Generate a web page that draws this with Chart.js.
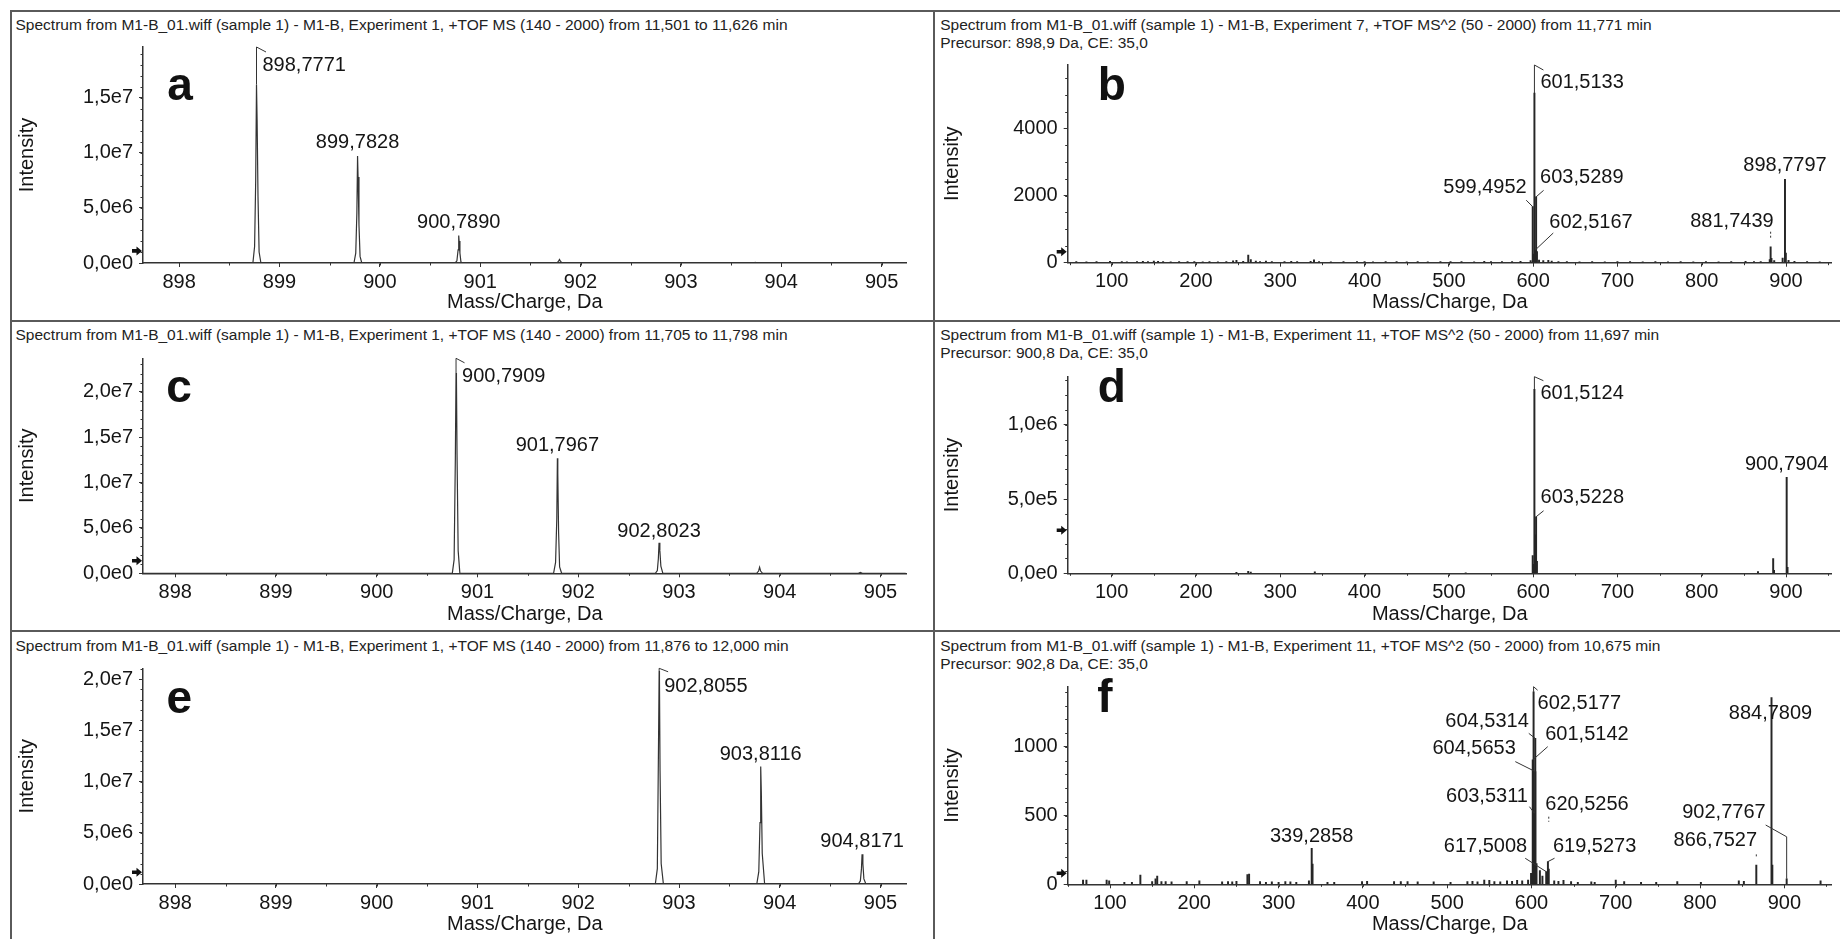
<!DOCTYPE html>
<html><head><meta charset="utf-8">
<script src="https://cdn.jsdelivr.net/npm/chart.js@4.4.1/dist/chart.umd.min.js"></script>
<style>
html,body{margin:0;padding:0;background:#fff;}
#fig{position:relative;width:1840px;height:939px;overflow:hidden;background:#fff;font-family:"Liberation Sans",Arial,sans-serif;}
.cv{position:absolute;}
.ttl{position:absolute;font-size:15.5px;line-height:18px;color:#222;white-space:nowrap;}
.ln{position:absolute;background:#5a5a5a;z-index:3;}
</style></head><body><div id="fig"></div>
<script>
const FONT = '"Liberation Sans", Arial, sans-serif';
const AX = '#333';
const TXT = '#151515';

// ---------------- data ----------------
// titles
const aTitle = ['Spectrum from M1-B_01.wiff (sample 1) - M1-B, Experiment 1, +TOF MS (140 - 2000) from 11,501 to 11,626 min'];
const bTitle = ['Spectrum from M1-B_01.wiff (sample 1) - M1-B, Experiment 7, +TOF MS^2 (50 - 2000) from 11,771 min', 'Precursor: 898,9 Da, CE: 35,0'];
const cTitle = ['Spectrum from M1-B_01.wiff (sample 1) - M1-B, Experiment 1, +TOF MS (140 - 2000) from 11,705 to 11,798 min'];
const dTitle = ['Spectrum from M1-B_01.wiff (sample 1) - M1-B, Experiment 11, +TOF MS^2 (50 - 2000) from 11,697 min', 'Precursor: 900,8 Da, CE: 35,0'];
const eTitle = ['Spectrum from M1-B_01.wiff (sample 1) - M1-B, Experiment 1, +TOF MS (140 - 2000) from 11,876 to 12,000 min'];
const fTitle = ['Spectrum from M1-B_01.wiff (sample 1) - M1-B, Experiment 11, +TOF MS^2 (50 - 2000) from 10,675 min', 'Precursor: 902,8 Da, CE: 35,0'];

// tick values
const msXTicks  = [898, 899, 900, 901, 902, 903, 904, 905];
const ms2XTicks = [100, 200, 300, 400, 500, 600, 700, 800, 900];
const aYTicks = [0, 5e6, 1e7, 1.5e7];
const bYTicks = [0, 2000, 4000];
const cYTicks = [0, 5e6, 1e7, 1.5e7, 2e7];
const dYTicks = [0, 5e5, 1e6];
const eYTicks = [0, 5e6, 1e7, 1.5e7, 2e7];
const fYTicks = [0, 500, 1000];

// panel a (profile MS)
const aMz  = [897.65, 898.735, 898.752, 898.763, 898.771, 898.777, 898.786, 898.797, 898.815, 899.742, 899.76, 899.771, 899.778, 899.783, 899.792, 899.803, 899.82, 900.75, 900.768, 900.78, 900.786, 900.79, 900.798, 900.808, 900.825, 901.76, 901.78, 901.79, 901.80, 901.82, 903.72, 903.74, 903.76, 904.73, 904.745, 904.76, 905.25];
const aInt = [0, 0, 1.5e6, 7.5e6, 1.62e7, 1.3e7, 6.0e6, 1.0e6, 0, 0, 9.0e5, 4.5e6, 9.7e6, 7.8e6, 3.5e6, 6e5, 0, 0, 2e5, 1.2e6, 2.5e6, 2.0e6, 9e5, 1e5, 0, 0, 1.5e5, 3.2e5, 1.5e5, 0, 0, 6e4, 0, 0, 4e4, 0, 0];
const aLabels = [898.7771, 899.7828, 900.7890];

// panel b (MS/MS sticks)
const bMz  = [58, 70, 82, 98, 112, 118, 130, 137, 143, 150, 155, 161, 170, 180, 190, 198, 208, 216, 226, 236, 244, 248, 256, 262, 265, 271, 276, 283, 290, 305, 313, 320, 336, 340, 346, 360, 375, 391, 400, 410, 425, 438, 450, 463, 475, 490, 502, 515, 530, 542, 550, 563, 575, 585, 597, 599.4952, 600.50, 601.5133, 602.5167, 603.5289, 604.53, 607, 612, 618, 622, 630, 640, 655, 670, 685, 700, 715, 730, 745, 760, 775, 790, 805, 820, 835, 852, 862, 870, 880.7, 881.7439, 882.75, 886, 896, 898.7797, 899.78, 903, 910, 925, 940];
const bInt = [30, 25, 35, 40, 30, 25, 35, 40, 30, 45, 40, 30, 25, 30, 35, 30, 25, 30, 25, 30, 55, 70, 40, 230, 95, 50, 35, 45, 30, 35, 40, 30, 40, 85, 30, 25, 30, 30, 35, 25, 30, 35, 25, 30, 25, 30, 35, 30, 25, 40, 30, 35, 30, 40, 60, 1667, 260, 5050, 378, 1960, 330, 80, 60, 70, 50, 35, 30, 25, 30, 25, 30, 35, 25, 30, 25, 30, 25, 30, 25, 30, 40, 35, 30, 90, 476, 130, 60, 140, 2480, 290, 70, 40, 30, 25];
const bLabels = [601.5133, 599.4952, 603.5289, 602.5167, 881.7439, 898.7797];

// panel c (profile MS)
const cMz  = [897.65, 900.75, 900.768, 900.78, 900.787, 900.791, 900.797, 900.808, 900.825, 901.755, 901.775, 901.787, 901.793, 901.797, 901.805, 901.815, 901.835, 902.765, 902.785, 902.795, 902.802, 902.81, 902.82, 902.84, 903.77, 903.79, 903.80, 903.81, 903.83, 904.78, 904.80, 904.82, 905.25];
const cInt = [0, 0, 1.5e6, 1.25e7, 2.206e7, 2.15e7, 1.3e7, 2.5e6, 0, 0, 1.2e6, 6e6, 1.267e7, 1.1e7, 4.5e6, 7e5, 0, 0, 3e5, 1.6e6, 3.37e6, 2.5e6, 8e5, 0, 0, 2.5e5, 6.6e5, 2.5e5, 0, 0, 1e5, 0, 0];
const cLabels = [900.7909, 901.7967, 902.8023];

// panel d (MS/MS sticks)
const dMz  = [248, 262, 265, 341, 520, 599.50, 600.50, 601.5124, 602.52, 603.5228, 604.53, 866.75, 884.78, 885.78, 900.7904, 901.79];
const dInt = [6000, 14000, 8000, 10000, 3000, 120000, 60000, 1240000, 260000, 381000, 80000, 12000, 100000, 20000, 647000, 40000];
const dLabels = [601.5124, 603.5228, 900.7904];

// panel e (profile MS)
const eMz  = [897.65, 902.765, 902.785, 902.797, 902.803, 902.806, 902.812, 902.823, 902.845, 903.772, 903.792, 903.804, 903.811, 903.817, 903.826, 903.85, 904.78, 904.80, 904.811, 904.817, 904.825, 904.835, 904.855, 905.25];
const eInt = [0, 0, 1.5e6, 1.4e7, 2.08e7, 2.0e7, 1.1e7, 2e6, 0, 0, 1.2e6, 6e6, 1.146e7, 9e6, 3e6, 0, 0, 3e5, 1.5e6, 2.9e6, 2e6, 5e5, 0, 0];
const eLabels = [902.8055, 903.8116, 904.8171];

// panel f (MS/MS sticks)
const fMz  = [68, 72, 96, 99, 117, 126, 136, 150, 154, 156, 161, 166, 173, 191, 206, 233, 240, 245, 250, 263, 265, 278, 285, 292, 300, 308, 314, 321, 336, 339.2858, 340.29, 358, 366, 399, 405, 437, 445, 453, 465, 484, 504, 524, 530, 536, 544, 550, 556, 563, 571, 577, 583, 589, 596, 599.5, 601.5142, 602.5177, 603.5311, 604.5314, 604.5653, 606, 610, 613, 617.5008, 619.5273, 620.5256, 627, 632, 638, 647, 655, 671, 675, 700, 710, 730, 748, 773, 801, 846, 852, 866.7527, 884.7809, 885.78, 902.7767, 943];
const fInt = [30, 30, 30, 25, 15, 15, 68, 20, 40, 60, 20, 20, 18, 20, 25, 18, 20, 18, 22, 70, 75, 20, 15, 18, 15, 20, 18, 15, 25, 262, 148, 15, 15, 20, 22, 20, 20, 20, 18, 18, 15, 20, 22, 18, 30, 28, 20, 18, 25, 22, 28, 25, 30, 80, 905, 1400, 517, 1062, 820, 150, 100, 60, 92, 165, 110, 25, 22, 28, 20, 15, 18, 15, 30, 20, 15, 15, 20, 15, 25, 22, 140, 1358, 140, 40, 25];
const fLabels = [602.5177, 604.5314, 601.5142, 604.5653, 603.5311, 620.5256, 617.5008, 619.5273, 884.7809, 902.7767, 866.7527, 339.2858];

// detection-threshold markers (intensity)
const thresholds = {a: 1.1e6, b: 327, c: 1.39e6, d: 2.9e5, e: 1.14e6, f: 80};

// ---------------- label layout (pixel offsets, styles) ----------------
const aLayout = [
  {bracket: true, t: [6, 24], bd: [9.5, 5]},
  {align: 'center', t: [0, -8]},
  {align: 'center', t: [0, -7]}
];
const bLayout = [
  {bracket: true, t: [6, 23], bd: [9, 5]},
  {align: 'right', t: [-6, -14], path: [[-6.5, -6.5], [0, 0]]},
  {align: 'left', t: [4, -14], path: [[7.5, -6.5], [0, 0]]},
  {align: 'left', t: [14, -22], path: [[18, -17], [0, 0]]},
  {align: 'right', t: [3, -20], dash: [-15, -8.4]},
  {align: 'center', t: [0, -8]}
];
const cLayout = [
  {bracket: true, t: [6, 23.4], bd: [8.5, 4.5]},
  {align: 'center', t: [0, -7]},
  {align: 'center', t: [0, -6]}
];
const dLayout = [
  {bracket: true, t: [6, 22.6], bd: [9, 4]},
  {align: 'left', t: [4.5, -13.5], path: [[7.5, -6], [0, 0]]},
  {align: 'center', t: [0, -7.5]}
];
const eLayout = [
  {bracket: true, t: [5, 23.4], bd: [9, 3.5]},
  {align: 'center', t: [0, -7]},
  {align: 'center', t: [0, -7.5]}
];
const fLayout = [
  {bracket: true, t: [4, 22.6], bd: [4, 3.5]},
  {align: 'right', t: [-6.5, -11.5], path: [[-6.5, -5], [0, 0]]},
  {align: 'left', t: [12.5, -20], path: [[15, -13.3], [0, 0]]},
  {align: 'right', t: [-19.5, -17.5], path: [[-20, -10], [0, 0]]},
  {align: 'right', t: [-6.5, -11], path: [[-5, -6.6], [0, 0]]},
  {align: 'left', t: [-3.5, -59], dash: [-52.5, -47.5]},
  {align: 'right', t: [-19, -20], path: [[-21, -13.4], [0, 0]]},
  {align: 'left', t: [5, -10], path: [[6.6, -3.4], [0, 0]]},
  {align: 'center', t: [-1, 21.3]},
  {align: 'right', t: [-21, -60.5], path: [[-21, -53.8], [0, -42], [0, 0]]},
  {align: 'right', t: [0.7, -19.3], dash: [-10.7, -6.7]},
  {align: 'center', t: [0, -6]}
];

const fmtExp = v => Number(v).toExponential(1).replace('.', ',').replace('e+', 'e');
const fmtPlain = v => String(Math.round(v));

// ---------------- panels ----------------
const panels = [
  {id:'a', title:aTitle, tPos:[15.5, 15.6], canvas:[12, 13, 920, 303], area:[143, 47, 906.7, 263], xr:[897.64, 905.25], yMax:1.96e7,
   xTicks:msXTicks, yTicks:aYTicks, yFmt:fmtExp, mz:aMz, int:aInt, labels:aLabels, layout:aLayout, profile:true,
   xMinor:0.5, yMinor:1e6, letterPos:[37, 53], ytPad:3},
  {id:'b', title:bTitle, tPos:[940.2, 15.6], canvas:[936, 13, 904, 303], area:[1067.7, 65, 1831.7, 262.7], xr:[47.8, 954.2], yMax:5884,
   xTicks:ms2XTicks, yTicks:bYTicks, yFmt:fmtPlain, mz:bMz, int:bInt, labels:bLabels, layout:bLayout, profile:false,
   xMinor:50, yMinor:500, letterPos:[44, 35], ytPad:4},
  {id:'c', title:cTitle, tPos:[15.5, 326.3], canvas:[12, 322, 920, 306], area:[143, 358.3, 906.7, 573.3], xr:[897.68, 905.26], yMax:2.368e7,
   xTicks:msXTicks, yTicks:cYTicks, yFmt:fmtExp, mz:cMz, int:cInt, labels:cLabels, layout:cLayout, profile:true,
   xMinor:0.5, yMinor:1e6, letterPos:[36, 43.4], ytPad:3},
  {id:'d', title:dTitle, tPos:[940.2, 326.3], canvas:[936, 322, 904, 306], area:[1067.7, 376.7, 1831.7, 573.3], xr:[47.85, 954.2], yMax:1.325e6,
   xTicks:ms2XTicks, yTicks:dYTicks, yFmt:fmtExp, mz:dMz, int:dInt, labels:dLabels, layout:dLayout, profile:false,
   xMinor:50, yMinor:1e5, letterPos:[44, 25], ytPad:4},
  {id:'e', title:eTitle, tPos:[15.5, 636.6], canvas:[12, 632, 920, 306], area:[143, 668.3, 906.7, 884], xr:[897.68, 905.26], yMax:2.106e7,
   xTicks:msXTicks, yTicks:eYTicks, yFmt:fmtExp, mz:eMz, int:eInt, labels:eLabels, layout:eLayout, profile:true,
   xMinor:0.5, yMinor:1e6, letterPos:[36.3, 45], ytPad:3},
  {id:'f', title:fTitle, tPos:[940.2, 636.6], canvas:[936, 632, 904, 306], area:[1067.7, 686.7, 1831.7, 884.3], xr:[49.8, 956.2], yMax:1438,
   xTicks:ms2XTicks, yTicks:fYTicks, yFmt:fmtPlain, mz:fMz, int:fInt, labels:fLabels, layout:fLayout, profile:false,
   xMinor:50, yMinor:100, letterPos:[37.3, 25], ytPad:4}
];

const fig = document.getElementById('fig');

// frame lines
[[10, 10, 1830, 2], [10, 10, 2, 929], [933, 10, 2, 929], [10, 319.5, 1830, 2], [10, 629.5, 1830, 2]].forEach(r => {
  const d = document.createElement('div'); d.className = 'ln';
  d.style.left = r[0] + 'px'; d.style.top = r[1] + 'px'; d.style.width = r[2] + 'px'; d.style.height = r[3] + 'px';
  fig.appendChild(d);
});

function specPlugin(p) {
  return {
    id: 'spec' + p.id,
    afterDraw(chart) {
      const ctx = chart.ctx, ca = chart.chartArea, xs = chart.scales.x, ys = chart.scales.y;
      ctx.save();
      ctx.strokeStyle = AX; ctx.lineWidth = 1;
      // minor ticks
      for (let i = 1; i * p.yMinor < ys.max; i++) {
        const yy = Math.round(ys.getPixelForValue(i * p.yMinor)) + 0.5;
        ctx.beginPath(); ctx.moveTo(ca.left - 2.5, yy); ctx.lineTo(ca.left, yy); ctx.stroke();
      }
      for (let i = Math.ceil(xs.min / p.xMinor); i * p.xMinor <= xs.max; i++) {
        const xx = Math.round(xs.getPixelForValue(i * p.xMinor)) + 0.5;
        ctx.beginPath(); ctx.moveTo(xx, ca.bottom); ctx.lineTo(xx, ca.bottom + 2.5); ctx.stroke();
      }
      // threshold arrow
      const ay = ys.getPixelForValue(thresholds[p.id]);
      const ax = ca.left - 1;
      ctx.fillStyle = '#111';
      ctx.beginPath();
      ctx.moveTo(ax - 10, ay - 1.8); ctx.lineTo(ax - 5.5, ay - 1.8); ctx.lineTo(ax - 5.5, ay - 4.5);
      ctx.lineTo(ax, ay); ctx.lineTo(ax - 5.5, ay + 4.5); ctx.lineTo(ax - 5.5, ay + 1.8); ctx.lineTo(ax - 10, ay + 1.8);
      ctx.closePath(); ctx.fill();
      // panel letter
      ctx.font = 'bold 46px ' + FONT; ctx.textAlign = 'center'; ctx.textBaseline = 'alphabetic';
      ctx.fillText(p.id, ca.left + p.letterPos[0], ca.top + p.letterPos[1]);
      // peak labels
      ctx.font = '20px ' + FONT; ctx.fillStyle = TXT; ctx.strokeStyle = '#333'; ctx.lineWidth = 1;
      const tol = p.profile ? 0.03 : 0.004;
      p.labels.forEach((mz, i) => {
        const L = p.layout[i];
        let best = -1, bi = -1;
        for (let k = 0; k < p.mz.length; k++) {
          if (Math.abs(p.mz[k] - mz) <= tol && p.int[k] > best) { best = p.int[k]; bi = k; }
        }
        if (bi < 0) return;
        const px = xs.getPixelForValue(p.mz[bi]);
        const py = ys.getPixelForValue(best);
        const text = mz.toFixed(4).replace('.', ',');
        if (L.bracket) {
          ctx.beginPath(); ctx.moveTo(px, py); ctx.lineTo(px, ca.top); ctx.lineTo(px + L.bd[0], ca.top + L.bd[1]); ctx.stroke();
          ctx.textAlign = 'left';
          ctx.fillText(text, px + L.t[0], ca.top + L.t[1]);
        } else {
          if (L.path) {
            ctx.beginPath();
            L.path.forEach((q, j) => { if (j === 0) ctx.moveTo(px + q[0], py + q[1]); else ctx.lineTo(px + q[0], py + q[1]); });
            ctx.stroke();
          }
          if (L.dash) {
            ctx.setLineDash([2, 2]);
            ctx.beginPath(); ctx.moveTo(px, py + L.dash[0]); ctx.lineTo(px, py + L.dash[1]); ctx.stroke();
            ctx.setLineDash([]);
          }
          ctx.textAlign = L.align || 'center';
          ctx.fillText(text, px + L.t[0], py + L.t[1]);
        }
      });
      ctx.restore();
    }
  };
}

panels.forEach(p => {
  // title
  const t = document.createElement('div'); t.className = 'ttl';
  t.style.left = p.tPos[0] + 'px'; t.style.top = p.tPos[1] + 'px';
  t.innerHTML = p.title.map(s => s.replace(/&/g, '&amp;').replace(/</g, '&lt;')).join('<br>');
  fig.appendChild(t);

  const [cx, cy, cw, ch] = p.canvas;
  const [L, T, R, B] = p.area;
  const yW = L - cx, xH = cy + ch - B, padTop = T - cy, padRight = cx + cw - R;
  const cv = document.createElement('canvas');
  cv.className = 'cv'; cv.width = cw; cv.height = ch;
  cv.style.left = cx + 'px'; cv.style.top = cy + 'px'; cv.style.width = cw + 'px'; cv.style.height = ch + 'px';
  fig.appendChild(cv);

  const n = Math.min(p.mz.length, p.int.length);
  const pts = [];
  for (let i = 0; i < n; i++) pts.push({x: p.mz[i], y: p.int[i]});

  const ds = p.profile
    ? {type: 'scatter', data: pts, showLine: true, pointRadius: 0, borderColor: '#333', borderWidth: 1.2, tension: 0}
    : {type: 'bar', data: pts, backgroundColor: '#262626', borderWidth: 0, barThickness: 1.3, grouped: false};

  const tickFont = {family: FONT, size: 20};
  new Chart(cv, {
    type: p.profile ? 'scatter' : 'bar',
    data: {datasets: [ds]},
    options: {
      responsive: false, animation: false, devicePixelRatio: 1,
      layout: {padding: {left: 0, top: padTop, right: padRight, bottom: 0}},
      plugins: {legend: {display: false}, tooltip: {enabled: false}},
      scales: {
        x: {
          type: 'linear', min: p.xr[0], max: p.xr[1], offset: false,
          afterBuildTicks: s => { s.ticks = p.xTicks.map(v => ({value: v})); },
          afterFit: s => { s.height = xH; },
          border: {display: true, color: AX, width: 1.5},
          grid: {display: true, offset: false, drawOnChartArea: false, drawTicks: true, tickLength: 4, tickWidth: 1, tickColor: AX},
          ticks: {autoSkip: false, maxRotation: 0, minRotation: 0, padding: 3, color: TXT, font: tickFont, callback: v => String(Math.round(v))},
          title: {display: true, text: 'Mass/Charge, Da', color: TXT, font: tickFont, padding: {top: 0, bottom: 2}}
        },
        y: {
          type: 'linear', min: 0, max: p.yMax,
          afterBuildTicks: s => { s.ticks = p.yTicks.map(v => ({value: v})); },
          afterFit: s => { s.width = yW; },
          border: {display: true, color: AX, width: 1.5},
          grid: {display: true, drawOnChartArea: false, drawTicks: true, tickLength: 4, tickWidth: 1, tickColor: AX},
          ticks: {autoSkip: false, padding: 6, color: TXT, font: tickFont, callback: v => p.yFmt(v)},
          title: {display: true, text: 'Intensity', color: TXT, font: tickFont, padding: {top: p.ytPad, bottom: 0}}
        }
      }
    },
    plugins: [specPlugin(p)]
  });
});
</script>
</body></html>
